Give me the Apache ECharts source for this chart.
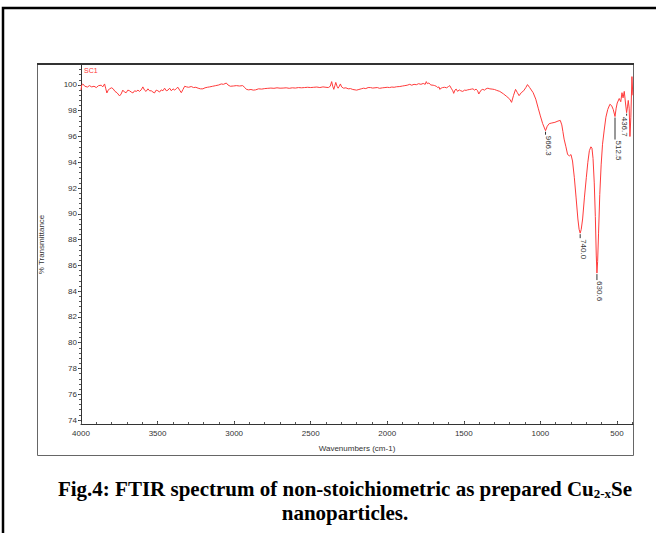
<!DOCTYPE html>
<html>
<head>
<meta charset="utf-8">
<script src="https://cdn.jsdelivr.net/npm/echarts@6/dist/echarts.min.js"></script>
<style>
html, body { margin: 0; padding: 0; background: #fff; }
#chart { width: 656px; height: 533px; }
</style>
</head>
<body>
<div id="chart"></div>
<script>
// FTIR spectrum, wavenumber (cm-1) vs % transmittance
var wavenumber = [
  4000, 3995, 3988, 3975, 3958, 3945, 3930, 3915, 3900, 3885, 3868, 3858, 3846, 3838, 3831, 3822,
  3814, 3800, 3790, 3778, 3765, 3748, 3738, 3727, 3716, 3705, 3694, 3683, 3672, 3661, 3650, 3639,
  3628, 3618, 3607, 3596, 3585, 3575, 3563, 3552, 3541, 3530, 3520, 3509, 3498, 3487, 3476, 3465,
  3454, 3443, 3432, 3421, 3410, 3399, 3388, 3378, 3367, 3356, 3345, 3334, 3323, 3310, 3297, 3280,
  3265, 3250, 3235, 3220, 3204, 3190, 3175, 3160, 3140, 3120, 3100, 3084, 3070, 3051, 3040, 3025,
  3005, 2985, 2965, 2944, 2930, 2920, 2905, 2890, 2875, 2860, 2840, 2820, 2800, 2780, 2760, 2740,
  2720, 2700, 2680, 2660, 2640, 2620, 2600, 2580, 2560, 2540, 2520, 2500, 2480, 2460, 2440, 2420,
  2400, 2385, 2372, 2363, 2356, 2349, 2342, 2336, 2328, 2321, 2313, 2306, 2298, 2285, 2270, 2255,
  2240, 2225, 2210, 2200, 2185, 2170, 2155, 2140, 2125, 2110, 2095, 2080, 2065, 2050, 2030, 2015,
  2000, 1985, 1970, 1955, 1940, 1918, 1900, 1885, 1870, 1853, 1840, 1825, 1810, 1795, 1780, 1765,
  1752, 1745, 1738, 1728, 1715, 1700, 1690, 1680, 1670, 1662, 1657, 1648, 1638, 1625, 1612, 1600,
  1592, 1580, 1572, 1566, 1558, 1550, 1540, 1530, 1520, 1507, 1495, 1485, 1475, 1461, 1450, 1440,
  1430, 1420, 1410, 1402, 1395, 1385, 1376, 1365, 1355, 1343, 1330, 1315, 1300, 1285, 1265, 1240,
  1219, 1200, 1188, 1175, 1162, 1150, 1139, 1125, 1109, 1095, 1084, 1070, 1047, 1030, 1014, 1000,
  985, 966.3, 955, 942, 925, 905, 885, 870, 860, 853, 845, 833, 822, 810, 800, 790,
  778, 767, 755, 747, 740.0, 733, 724, 712, 700, 690, 680, 670, 663, 656, 648, 641,
  635, 630.6, 626, 620, 612, 603, 594, 583, 572, 560, 546, 535, 524, 512.5, 505, 498,
  485, 475, 467, 460, 452, 444, 436.7, 431, 426, 420, 415, 409, 402, 396
];
var transmittance = [
  99.60, 100.00, 100.08, 99.90, 99.84, 99.95, 99.85, 99.90, 99.80, 99.95, 99.98, 99.85, 100.08, 99.70, 99.38, 99.60,
  99.70, 99.78, 99.70, 99.50, 99.40, 99.15, 99.30, 99.60, 99.45, 99.40, 99.60, 99.55, 99.45, 99.38, 99.55, 99.50,
  99.60, 99.50, 99.62, 99.85, 99.60, 99.50, 99.70, 99.55, 99.55, 99.45, 99.38, 99.60, 99.55, 99.45, 99.62, 99.55,
  99.75, 99.55, 99.60, 99.75, 99.55, 99.70, 99.60, 99.72, 99.82, 99.60, 99.40, 99.65, 99.90, 99.85, 99.82, 99.88,
  99.80, 99.82, 99.75, 99.70, 99.70, 99.78, 99.82, 99.85, 99.90, 99.95, 100.00, 100.08, 100.05, 100.15, 100.00, 99.90,
  99.92, 99.95, 99.92, 99.95, 99.80, 99.66, 99.62, 99.65, 99.60, 99.62, 99.70, 99.68, 99.72, 99.74, 99.76, 99.74,
  99.78, 99.75, 99.76, 99.78, 99.74, 99.78, 99.76, 99.80, 99.78, 99.80, 99.82, 99.80, 99.82, 99.84, 99.80, 99.85,
  99.82, 99.80, 99.90, 100.26, 99.90, 99.66, 99.95, 100.20, 99.90, 99.75, 99.90, 100.08, 99.85, 99.75, 99.78, 99.70,
  99.72, 99.65, 99.62, 99.60, 99.65, 99.70, 99.75, 99.72, 99.80, 99.80, 99.76, 99.78, 99.80, 99.74, 99.78, 99.80,
  99.82, 99.80, 99.84, 99.82, 99.86, 99.88, 99.92, 99.95, 99.98, 100.05, 99.98, 100.05, 100.02, 100.10, 100.05, 100.12,
  100.05, 100.26, 100.10, 100.15, 100.00, 99.98, 99.95, 99.90, 99.80, 99.85, 99.66, 99.75, 99.80, 99.82, 99.78, 99.88,
  99.95, 99.70, 99.55, 99.35, 99.60, 99.68, 99.50, 99.62, 99.55, 99.50, 99.60, 99.58, 99.62, 99.65, 99.68, 99.70,
  99.60, 99.68, 99.55, 99.30, 99.45, 99.62, 99.66, 99.60, 99.70, 99.75, 99.70, 99.68, 99.65, 99.58, 99.50, 99.30,
  99.10, 98.90, 98.65, 99.20, 99.66, 99.40, 99.17, 99.40, 99.55, 99.80, 100.03, 99.80, 99.40, 98.90, 98.20, 97.60,
  97.00, 96.45, 96.80, 97.00, 97.05, 97.10, 97.20, 97.25, 96.90, 96.40, 95.80, 95.20, 94.60, 94.50, 94.60, 94.10,
  92.80, 91.30, 89.60, 88.80, 88.50, 88.80, 89.60, 91.30, 92.80, 94.00, 94.90, 95.20, 95.10, 94.30, 92.40, 89.80,
  86.80, 85.40, 86.30, 88.50, 91.50, 93.80, 95.40, 96.50, 97.50, 98.10, 98.50, 98.40, 98.10, 97.55, 98.20, 98.60,
  98.95, 98.70, 99.40, 99.00, 99.50, 98.60, 97.85, 98.30, 98.80, 98.20, 96.00, 97.50, 100.65, 99.20
];
var peakWavenumber = [966.3, 740.0, 630.6, 512.5, 436.7];
var peakLabel = ['966.3', '740.0', '630.6', '512.5', '436.7'];
var xTickLabels = [4000, 3500, 3000, 2500, 2000, 1500, 1000, 500];
var yTickLabels = [74, 76, 78, 80, 82, 84, 86, 88, 90, 92, 94, 96, 98, 100];

// leader line length and sideways text shift (px) for each peak label
var leaderDrop = [4, 5, 7, 23, 3];
var labelShift = [3, 3, 3, 3, -2];

var xMinor = [];
for (var v = 4000; v >= 400; v -= 100) xMinor.push(v);
var yMinor = [];
for (var t = 74; t <= 101.5; t += 0.4) yMinor.push(Math.round(t * 10) / 10);

var spectrum = wavenumber.map(function (w, i) { return [w, transmittance[i]]; });
var peaks = peakWavenumber.map(function (w) {
  return [w, transmittance[wavenumber.indexOf(w)]];
});

var font = 'Liberation Sans, Arial, sans-serif';
var serif = 'Liberation Serif, Times New Roman, serif';
var axisColor = '#333';
var plain = function (val) { return String(val); };

var chart = echarts.init(document.getElementById('chart'), null, { renderer: 'svg' });

var option = {
  animation: false,
  backgroundColor: '#fff',
  grid: { left: 81, right: 23, top: 65, bottom: 109 },
  xAxis: [{
    type: 'value', min: 395, max: 4000, inverse: true, position: 'bottom',
    name: 'Wavenumbers (cm-1)', nameLocation: 'middle', nameGap: 20,
    nameTextStyle: { fontSize: 8, color: axisColor, fontFamily: font },
    axisLine: { show: true, lineStyle: { color: axisColor, width: 1 } },
    axisTick: { show: true, inside: true, length: 3, customValues: xTickLabels, lineStyle: { color: axisColor } },
    axisLabel: { customValues: xTickLabels, formatter: plain, fontSize: 8, color: axisColor, fontFamily: font, margin: 5 },
    splitLine: { show: false }
  }, {
    type: 'value', min: 395, max: 4000, inverse: true, position: 'bottom',
    axisLine: { show: false },
    axisTick: { show: true, inside: true, length: 2, customValues: xMinor, lineStyle: { color: '#555' } },
    axisLabel: { show: false },
    splitLine: { show: false }
  }],
  yAxis: [{
    type: 'value', min: 73.69, max: 101.55, position: 'left',
    name: '% Transmittance', nameLocation: 'middle', nameGap: 36,
    nameTextStyle: { fontSize: 8, color: axisColor, fontFamily: font },
    axisLine: { show: true, lineStyle: { color: axisColor, width: 1 } },
    axisTick: { show: true, length: 3, customValues: yTickLabels, lineStyle: { color: axisColor } },
    axisLabel: { customValues: yTickLabels, formatter: plain, fontSize: 8, color: axisColor, fontFamily: font, margin: 4 },
    splitLine: { show: false }
  }, {
    type: 'value', min: 73.69, max: 101.55, position: 'left',
    axisLine: { show: false },
    axisTick: { show: true, length: 2, customValues: yMinor, lineStyle: { color: '#555' } },
    axisLabel: { show: false },
    splitLine: { show: false }
  }],
  graphic: [
    { type: 'rect', shape: { x: 3, y: 8, width: 720, height: 620 }, style: { fill: 'none', stroke: '#000', lineWidth: 2.5 }, silent: true },
    { type: 'rect', shape: { x: 37.5, y: 64.5, width: 596, height: 391 }, style: { fill: 'none', stroke: '#666', lineWidth: 1 }, silent: true },
    { type: 'line', shape: { x1: 37, y1: 64, x2: 634, y2: 64 }, style: { stroke: '#333', lineWidth: 2 }, silent: true },
    { type: 'text', x: 84, y: 67, style: { text: 'SC1', fontSize: 7, fill: '#ff3333', fontFamily: font } },
    {
      type: 'text', x: 345, y: 477,
      style: {
        text: '{b|Fig.4: FTIR spectrum of non-stoichiometric as prepared Cu}{s|2-x}{b|Se}\n{b|nanoparticles.}',
        align: 'center',
        rich: {
          b: { fontFamily: serif, fontWeight: 'bold', fontSize: 21, fill: '#000', lineHeight: 24 },
          s: { fontFamily: serif, fontWeight: 'bold', fontSize: 13, fill: '#000', lineHeight: 24, padding: [9, 0, 0, 0] }
        }
      }
    }
  ],
  series: [{
    type: 'line',
    data: spectrum,
    showSymbol: false,
    lineStyle: { color: '#ff3b3b', width: 1 },
    silent: true,
    z: 3
  }, {
    type: 'custom',
    data: peaks,
    silent: true,
    clip: false,
    z: 4,
    renderItem: function (params, api) {
      var p = api.coord([api.value(0), api.value(1)]);
      var i = params.dataIndex;
      var drop = leaderDrop[i];
      return {
        type: 'group',
        children: [{
          type: 'line',
          shape: { x1: p[0], y1: p[1] + 1, x2: p[0], y2: p[1] + drop },
          style: { stroke: '#333', lineWidth: 1 }
        }, {
          type: 'text',
          x: p[0] + labelShift[i], y: p[1] + drop + 1,
          rotation: -Math.PI / 2,
          style: { text: peakLabel[i], fontSize: 8, fill: '#333', fontFamily: font, align: 'left', verticalAlign: 'middle' }
        }]
      };
    }
  }]
};

chart.setOption(option);
</script>
</body>
</html>
